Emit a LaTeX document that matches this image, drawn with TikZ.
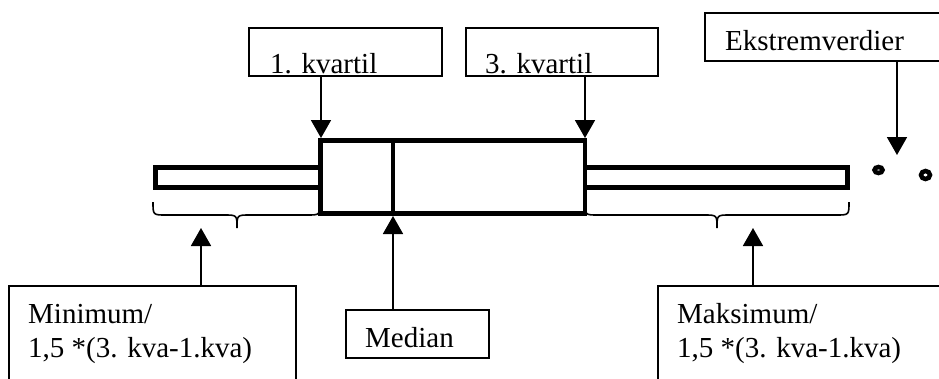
\documentclass[tikz,border=0pt]{standalone}
\usepackage{fontspec}
\setmainfont{Liberation Serif}
\usetikzlibrary{arrows.meta}
\begin{document}
\begin{tikzpicture}[x=1pt,y=-1pt,
  lbl/.style={draw=black,line width=1.6pt,inner sep=0pt,anchor=north west},
  txt/.style={anchor=base west,inner sep=0pt,font=\fontsize{29}{34}\selectfont},
  arr/.style={line width=1.8pt,-{Triangle[width=20pt,length=18pt]}},
  thick box/.style={line width=4.5pt},
  bracestyle/.style={line width=1.6pt},
  blob/.style={line width=4.5pt}]
\useasboundingbox (0,0) rectangle (939,378);
\clip (0,0) rectangle (939,378);
% label boxes
\node[lbl,minimum width=193pt,minimum height=48pt] (q1) at (248,27) {};
\node[txt] (q1t) at (270,73) {1. kvartil};
\node[lbl,minimum width=192pt,minimum height=48pt] (q3) at (465,27) {};
\node[txt] (q3t) at (485,73) {3. kvartil};
\node[lbl,minimum width=260pt,minimum height=48pt] (ex) at (704,12) {};
\node[txt] (ext) at (725,50) {Ekstremverdier};
\node[lbl,minimum width=287pt,minimum height=120pt] (mi) at (8,285) {};
\node[txt,align=left] (mit) at (28,357) {Minimum/\\1,5 *(3. kva-1.kva)};
\node[lbl,minimum width=300pt,minimum height=120pt] (ma) at (657,285) {};
\node[txt,align=left] (mat) at (677,357) {Maksimum/\\1,5 *(3. kva-1.kva)};
\node[lbl,minimum width=143pt,minimum height=48pt] (me) at (345,309) {};
\node[txt] (met) at (365,347) {Median};
% box plot
\draw[thick box] (155.5,167.5) rectangle (320.5,187.5);
\draw[thick box] (585,167.5) rectangle (847.5,187.5);
\draw[thick box,fill=white] (320.5,140.5) rectangle (585,213.5);
\draw[thick box] (393,140.5) -- (393,213.5);
% outliers
\draw[blob] (878.5,170) circle[x radius=4pt,y radius=3pt];
\draw[blob] (925.5,175) circle[x radius=4.5pt,y radius=4pt];
% braces
\draw[bracestyle] (153,202) .. controls (153,215) .. (166,215) -- (224,215)
  .. controls (237,215) .. (237,228) .. controls (237,215) .. (250,215)
  -- (307,215) .. controls (320,215) .. (320,202);
\draw[bracestyle] (585,202) .. controls (585,215) .. (598,215) -- (704,215)
  .. controls (717,215) .. (717,228) .. controls (717,215) .. (730,215)
  -- (836,215) .. controls (849,215) .. (849,202);
% arrow targets
\coordinate (q1tip) at (321,138);
\coordinate (q3tip) at (585,138);
\coordinate (extip) at (897,155);
\coordinate (mitip) at (201,228);
\coordinate (matip) at (753,228);
\coordinate (metip) at (393,216);
\draw[arr] (q1.south -| q1tip) -- (q1tip);
\draw[arr] (q3.south -| q3tip) -- (q3tip);
\draw[arr] (ex.south -| extip) -- (extip);
\draw[arr] (mi.north -| mitip) -- (mitip);
\draw[arr] (ma.north -| matip) -- (matip);
\draw[arr] (me.north -| metip) -- (metip);
\end{tikzpicture}
\end{document}
